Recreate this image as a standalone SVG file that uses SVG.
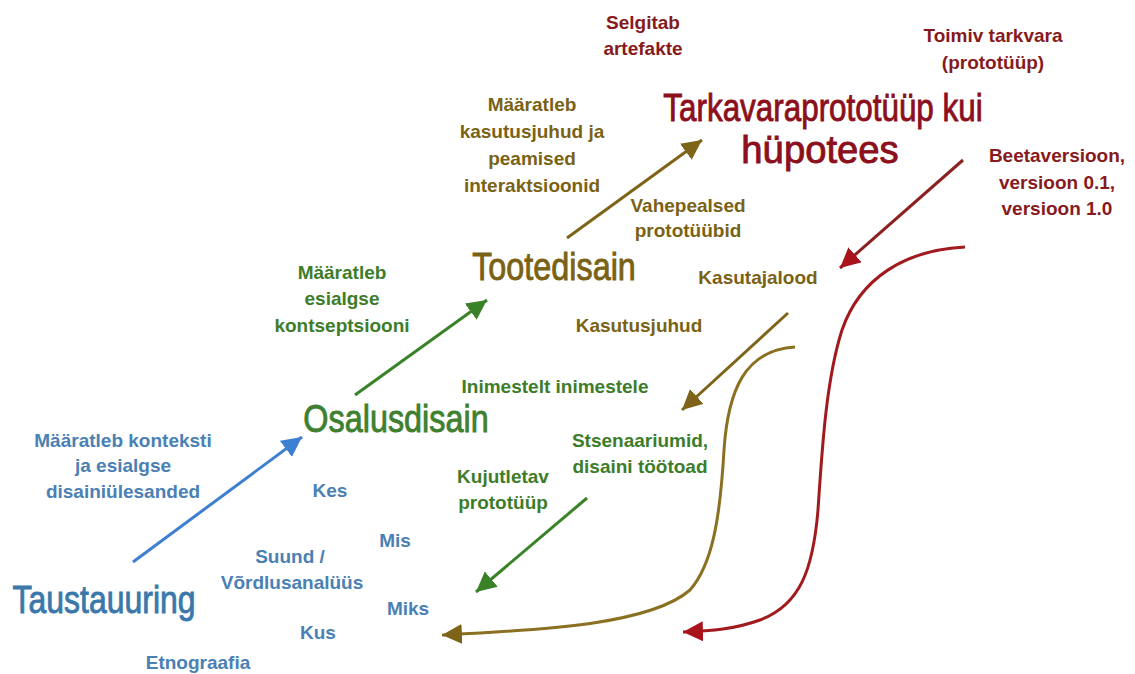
<svg xmlns="http://www.w3.org/2000/svg" width="1135" height="674" viewBox="0 0 1135 674">
<style>
text{font-family:"Liberation Sans",Arial,sans-serif;text-anchor:middle}
.l{font-size:19px;font-weight:bold}
.t{font-size:39px;stroke-width:0.9px}
.blue{fill:#4a80b4}
.green{fill:#3d7d2a}
.olive{fill:#7a6214}
.red{fill:#861a1c}
.tb{fill:#3b78aa;stroke:#3b78aa}
.tg{fill:#3f8030;stroke:#3f8030}
.to{fill:#7a6214;stroke:#7a6214}
.tr{fill:#8c0f1c;stroke:#8c0f1c}
.c{fill:none;stroke-width:3}
</style>
<defs>
<marker id="mb" markerWidth="22" markerHeight="22" refX="20" refY="10" orient="auto" markerUnits="userSpaceOnUse"><path d="M0,0L20,10L0,20z" fill="#3d7fd0"/></marker>
<marker id="mg" markerWidth="22" markerHeight="22" refX="20" refY="10" orient="auto" markerUnits="userSpaceOnUse"><path d="M0,0L20,10L0,20z" fill="#3a8228"/></marker>
<marker id="mo" markerWidth="22" markerHeight="22" refX="20" refY="10" orient="auto" markerUnits="userSpaceOnUse"><path d="M0,0L20,10L0,20z" fill="#7d6419"/></marker>
<marker id="mr" markerWidth="22" markerHeight="22" refX="20" refY="10" orient="auto" markerUnits="userSpaceOnUse"><path d="M0,0L20,10L0,20z" fill="#a8141a"/></marker>
</defs>
<rect width="1135" height="674" fill="#ffffff"/>
<g id="connectors">
<path class="c" stroke="#3d7fd0" d="M133,562L302,437" marker-end="url(#mb)"/>
<path class="c" stroke="#3a8228" d="M355,395L487,300" marker-end="url(#mg)"/>
<path class="c" stroke="#7d6419" d="M567,238L702,140" marker-end="url(#mo)"/>
<path class="c" stroke="#8a2020" d="M963,160L840,268" marker-end="url(#mr)"/>
<path class="c" stroke="#7d6419" d="M788,313L682,410" marker-end="url(#mo)"/>
<path class="c" stroke="#3a8228" d="M587,498L476,592" marker-end="url(#mg)"/>
<path class="c" stroke="#a01a1e" stroke-width="2.5" d="M965,247C905,250 860,278 842,330C826,380 822,450 818,510C813,570 800,605 760,620C735,629 712,631 683,632" marker-end="url(#mr)"/>
<path class="c" stroke="#8a7020" stroke-width="2.5" d="M795,347C745,350 728,390 724,450C720,520 712,565 690,590C650,625 540,630 442,635" marker-end="url(#mo)"/>
</g>
<g id="taustauuring"><text class="t tb" transform="translate(104,613) scale(0.82,1)">Taustauuring</text></g>
<g id="osalusdisain"><text class="t tg" transform="translate(396,432) scale(0.83,1)">Osalusdisain</text></g>
<g id="tootedisain"><text class="t to" transform="translate(554,280) scale(0.83,1)">Tootedisain</text></g>
<g id="tarkvaraprototyyp">
<text class="t tr" transform="translate(823,121) scale(0.805,1)">Tarkavaraprototüüp kui</text>
<text class="t tr" transform="translate(820,163) scale(0.98,1)">hüpotees</text>
</g>
<g id="labels-blue" class="l blue">
<text x="123" y="447">Määratleb konteksti</text>
<text x="123" y="472">ja esialgse</text>
<text x="123" y="498">disainiülesanded</text>
<text x="330" y="497">Kes</text>
<text x="395" y="547">Mis</text>
<text x="290" y="563">Suund /</text>
<text x="292" y="589">Võrdlusanalüüs</text>
<text x="408" y="615">Miks</text>
<text x="318" y="639">Kus</text>
<text x="198" y="669">Etnograafia</text>
</g>
<g id="labels-green" class="l green">
<text x="342" y="279">Määratleb</text>
<text x="342" y="305">esialgse</text>
<text x="342" y="332">kontseptsiooni</text>
<text x="555" y="393">Inimestelt inimestele</text>
<text x="640" y="447">Stsenaariumid,</text>
<text x="640" y="473">disaini töötoad</text>
<text x="503" y="483">Kujutletav</text>
<text x="503" y="509">prototüüp</text>
</g>
<g id="labels-olive" class="l olive">
<text x="532" y="111">Määratleb</text>
<text x="532" y="138">kasutusjuhud ja</text>
<text x="532" y="165">peamised</text>
<text x="532" y="192">interaktsioonid</text>
<text x="688" y="212">Vahepealsed</text>
<text x="688" y="237">prototüübid</text>
<text x="758" y="284">Kasutajalood</text>
<text x="639" y="332">Kasutusjuhud</text>
</g>
<g id="labels-red" class="l red">
<text x="643" y="29">Selgitab</text>
<text x="643" y="55">artefakte</text>
<text x="993" y="42">Toimiv tarkvara</text>
<text x="993" y="69">(prototüüp)</text>
<text x="1057" y="162">Beetaversioon,</text>
<text x="1057" y="189">versioon 0.1,</text>
<text x="1057" y="215">versioon 1.0</text>
</g>
</svg>
